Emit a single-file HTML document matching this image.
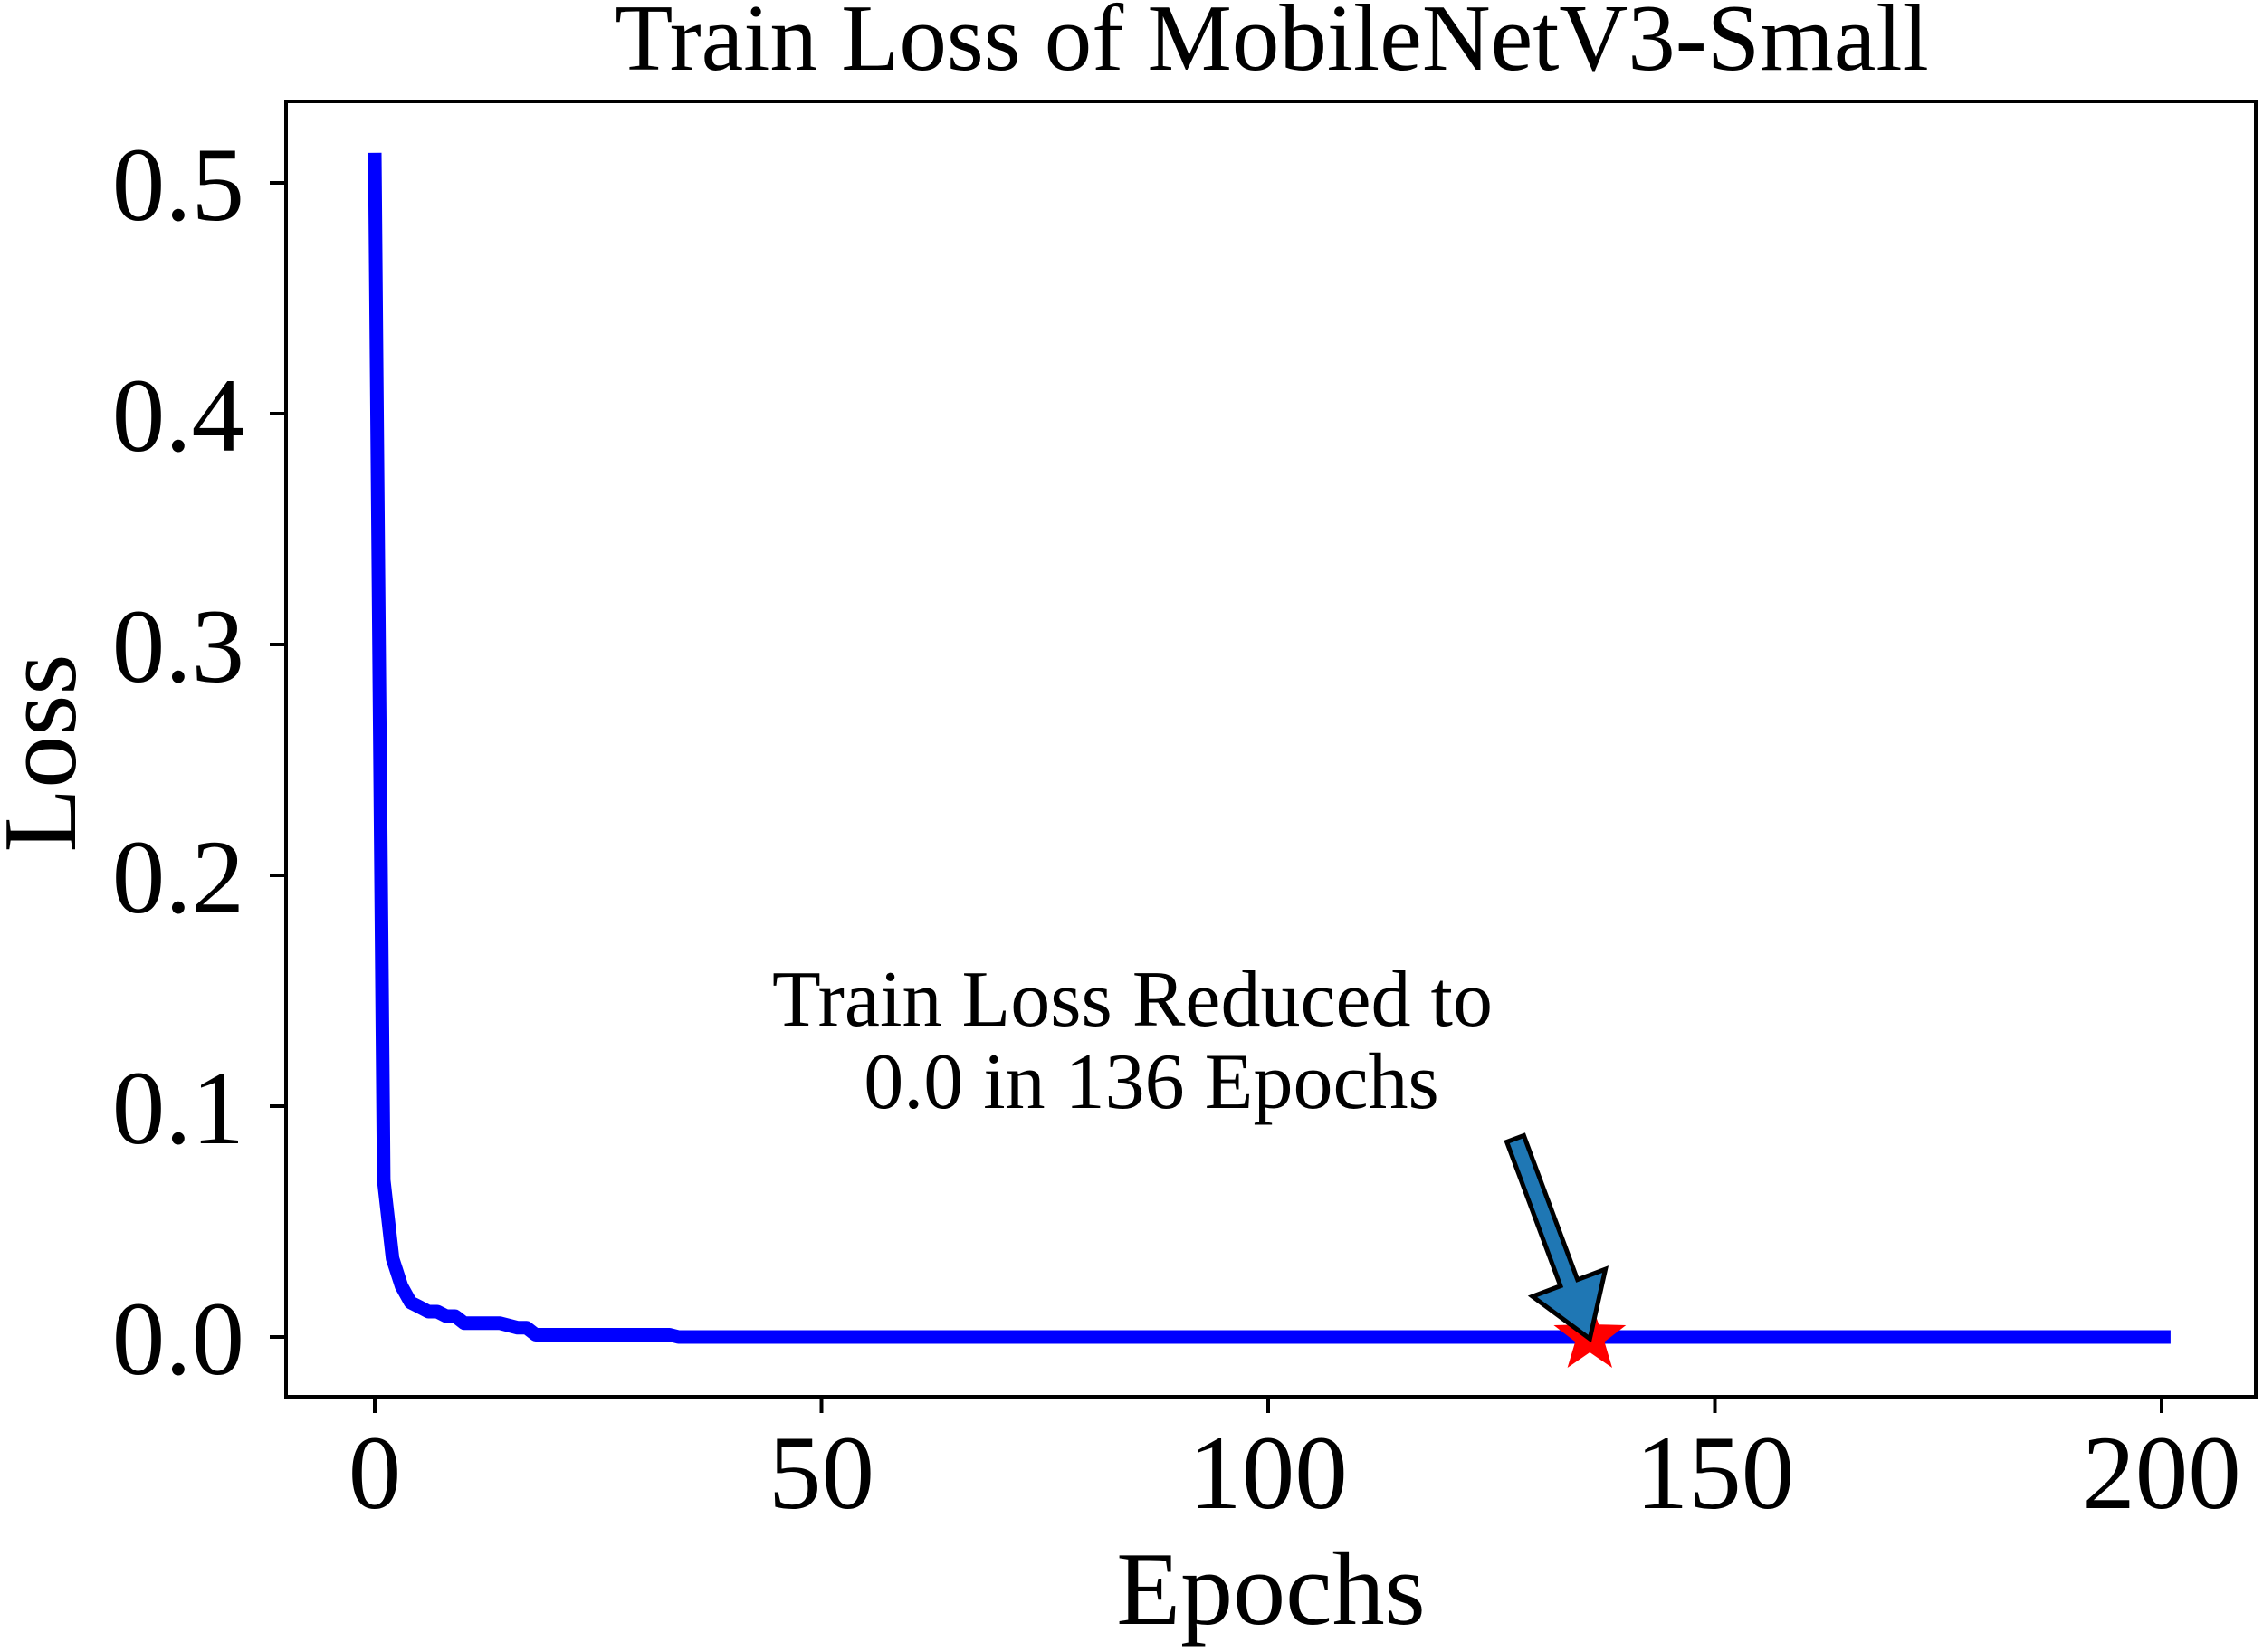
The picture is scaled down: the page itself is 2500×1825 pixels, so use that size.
<!DOCTYPE html>
<html><head><meta charset="utf-8"><style>
html,body{margin:0;padding:0;background:#fff;}
svg{display:block;}
text{font-family:"Liberation Serif",serif;fill:#000;}
</style></head><body>
<svg id="chart" width="2500" height="1825" viewBox="0 0 2500 1825" xmlns="http://www.w3.org/2000/svg">
<rect width="2500" height="1825" fill="#fff"/>
<text x="1405" y="77" font-size="105" text-anchor="middle">Train Loss of MobileNetV3-Small</text>
<g id="plot"></g>
<rect x="316" y="112" width="2176" height="1431" fill="none" stroke="#000" stroke-width="4"/>
<g id="xticks"></g><g id="yticks"></g>
<text x="1404" y="1794" font-size="116" text-anchor="middle">Epochs</text>
<text x="0" y="0" font-size="116" text-anchor="middle" transform="translate(83,832) rotate(-90)">Loss</text>
<text x="1251" y="1133" font-size="88" text-anchor="middle">Train Loss Reduced to</text>
<text x="1272" y="1224" font-size="88" text-anchor="middle">0.0 in 136 Epochs</text>
</svg>
<script>
const headLoss = [0.513, 0.068, 0.034, 0.022, 0.015, 0.013, 0.011, 0.011, 0.009, 0.009, 0.006, 0.006, 0.006, 0.006, 0.006, 0.005, 0.004, 0.004];
const midLoss = 0.001;
const midUntil = 33;
const tailLoss = 0.0;
const lastEpoch = 201;
const bestEpoch = 136;
const bestLoss = 0.0;
const xTicks = [0, 50, 100, 150, 200];
const yTicks = [0.0, 0.1, 0.2, 0.3, 0.4, 0.5];
const yTickLabels = ["0.0", "0.1", "0.2", "0.3", "0.4", "0.5"];

const NS = "http://www.w3.org/2000/svg";
function xS(v){ return 414 + v * 9.87; }
function yS(v){ return 1477 - v * 2550; }
function mk(tag, attrs, parent){
  const e = document.createElementNS(NS, tag);
  for (const k in attrs) e.setAttribute(k, attrs[k]);
  parent.appendChild(e);
  return e;
}
const svg = document.getElementById('chart');
const plot = document.getElementById('plot');
const losses = [];
for (let i = 0; i <= lastEpoch; i++) {
  if (i < headLoss.length) losses.push(headLoss[i]);
  else if (i <= midUntil) losses.push(midLoss);
  else losses.push(tailLoss);
}
const pts = losses.map((v, i) => xS(i).toFixed(1) + ',' + yS(v).toFixed(1)).join(' ');
const line = mk('polyline', {points: pts, fill: 'none', stroke: '#0000ff', 'stroke-width': 15, 'stroke-linejoin': 'round'}, plot);



const cx = xS(bestEpoch), cy = yS(bestLoss), R = 42, r = 17;
let sp = [];
for (let k = 0; k < 10; k++) {
  const a = -Math.PI/2 + k * Math.PI/5;
  const rr = k % 2 ? r : R;
  sp.push((cx + rr*Math.cos(a)).toFixed(1) + ',' + (cy + rr*Math.sin(a)).toFixed(1));
}
const star = mk('polygon', {points: sp.join(' '), fill: '#ff0000'}, svg);



const tx = 1674, ty = 1258, hx = cx, hy = cy + 2;
const dx = hx - tx, dy = hy - ty, L = Math.hypot(dx, dy);
const ux = dx / L, uy = dy / L, nx = -uy, ny = ux;
const sw = 10, hw = 43, hl = 66;
const bx = hx - ux*hl, by = hy - uy*hl;
const ap = [
  [tx + nx*sw, ty + ny*sw], [bx + nx*sw, by + ny*sw], [bx + nx*hw, by + ny*hw],
  [hx, hy], [bx - nx*hw, by - ny*hw], [bx - nx*sw, by - ny*sw], [tx - nx*sw, ty - ny*sw]
].map(p => p[0].toFixed(1) + ',' + p[1].toFixed(1)).join(' ');
const arrow = mk('polygon', {points: ap, fill: '#1f77b4', stroke: '#000', 'stroke-width': 5, 'stroke-linejoin': 'miter'}, svg);



const xg = document.getElementById('xticks');
xTicks.forEach(v => {
  const t = mk('line', {x1: xS(v), x2: xS(v), y1: 1543, y2: 1561, stroke: '#000', 'stroke-width': 4}, xg);
  
  
  const l = mk('text', {x: xS(v), y: 1666, 'font-size': 117, 'text-anchor': 'middle'}, xg);
  l.textContent = String(v);
  
  
});
const yg = document.getElementById('yticks');
yTicks.forEach((v, i) => {
  const t = mk('line', {x1: 298, x2: 316, y1: yS(v), y2: yS(v), stroke: '#000', 'stroke-width': 4}, yg);
  
  
  const l = mk('text', {x: 270, y: yS(v) + 41, 'font-size': 117, 'text-anchor': 'end'}, yg);
  l.textContent = yTickLabels[i];
  
  
});
</script>
</body></html>
